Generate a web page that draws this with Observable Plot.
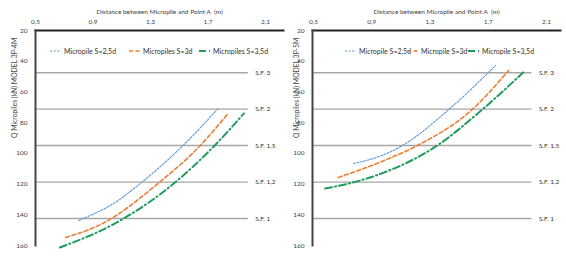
<!DOCTYPE html>
<html>
<head>
<meta charset="utf-8">
<script src="https://cdn.jsdelivr.net/npm/d3@7"></script>
<script src="https://cdn.jsdelivr.net/npm/@observablehq/plot@0.6"></script>
<style>
  html, body { margin: 0; padding: 0; background: #fff; }
  #wrap { position: relative; width: 566px; height: 265px; overflow: hidden; }
  .panel { position: absolute; top: 0; }
  .legend { position: absolute; top: 0; left: 0; font-family: Lato, "Open Sans", sans-serif; font-size: 7px; color: #333; }
  .legend .item { position: absolute; top: 46px; white-space: nowrap; display: flex; align-items: center; height: 10px; }
  .legend svg { margin-right: 3px; }
</style>
</head>
<body>
<div id="wrap"></div>
<script>
// ---- data ----
const xTicks = [0.5, 0.9, 1.3, 1.7, 2.1];
const yTicks = [20, 40, 60, 80, 100, 120, 140, 160];
const sfLabels = ["S.F. 3", "S.F. 2", "S.F. 1,5", "S.F. 1,2", "S.F. 1"];
const sfQ = [47.5, 71.2, 94.9, 118.7, 142.4];

const seriesNames4M = ["Micropile S=2,5d", "Micropiles S=3d", "Micropiles S=3,5d"];
const seriesNames5M = ["Micropile S=2,5d", "Micropile S=3d", "Micropile S=3,5d"];

const s25_4M_x = [0.80, 1.07, 1.23, 1.52, 1.77];
const s25_4M_q = [143.7, 131.0, 119.5, 95.5, 70.8];
const s30_4M_x = [0.71, 0.97, 1.36, 1.64, 1.84];
const s30_4M_q = [154.8, 145.5, 119.0, 95.5, 74.0];
const s35_4M_x = [0.67, 1.09, 1.47, 1.74, 1.95];
const s35_4M_q = [161.3, 143.7, 119.0, 95.5, 74.0];

const s25_5M_x = [0.775, 0.97, 1.10, 1.43, 1.75];
const s25_5M_q = [106.6, 101.4, 95.5, 71.4, 42.8];
const s30_5M_x = [0.67, 0.95, 1.20, 1.59, 1.84];
const s30_5M_q = [115.7, 106.0, 95.5, 71.4, 46.0];
const s35_5M_x = [0.58, 0.77, 0.97, 1.34, 1.66, 1.94];
const s35_5M_q = [122.9, 119.0, 113.0, 95.5, 71.4, 47.3];

const colors = ["#5b9bd5", "#ed7d31", "#1f9a5e"];
const dashes = ["2,1.5", "4,2.5", "7,3,1.2,3"];
const widths = [1.1, 1.6, 2];

function makeRows(xs, qs) { return xs.map((x, i) => ({x, q: qs[i]})); }

function makePanel(cfg) {
  const series = cfg.series.map(([xs, qs]) => makeRows(xs, qs));
  const sf = sfLabels.map((label, i) => ({label, q: sfQ[i]}));
  const marks = [
    Plot.ruleY(sf, {y: "q", x1: xTicks[0], x2: cfg.sfEnd, stroke: "#a6a6a6", strokeWidth: 1.4}),
    Plot.text(sf, {y: "q", x: cfg.sfEnd, text: "label", textAnchor: "start", dx: 7, fill: "#333", fontSize: 6.5}),
    ...series.map((rows, i) => Plot.line(rows, {
      x: "x", y: "q", curve: "monotone-x",
      stroke: colors[i], strokeWidth: widths[i], strokeDasharray: dashes[i]
    })),
    Plot.axisX({anchor: "top", ticks: xTicks, tickSize: 0, tickPadding: 7,
      tickFormat: d => String(d).replace(".", ","), label: "Distance between Micropile and Point A  (m)",
      labelAnchor: "center", labelOffset: 21, labelArrow: "none", fill: "#444", fontSize: 6.5}),
    Plot.axisY({anchor: "left", ticks: yTicks, tickSize: 0, tickPadding: 8, label: null, fill: "#444", fontSize: 6.5}),
    Plot.text([cfg.yLabel], {frameAnchor: "left", text: d => d, rotate: -90, dx: -cfg.labelOffset, fill: "#444", fontSize: 6.8}),
    Plot.frame({anchor: "top", stroke: "#222", strokeWidth: 2}),
    Plot.frame({anchor: "left", stroke: "#444", strokeWidth: 2})
  ];
  return Plot.plot({
    width: 283, height: 265,
    marginLeft: cfg.left, marginRight: cfg.right, marginTop: 30, marginBottom: 20,
    style: {fontFamily: "Lato, 'Open Sans', sans-serif", fontSize: "7px", color: "#333", background: "transparent", overflow: "visible"},
    x: {domain: [xTicks[0], xTicks[xTicks.length - 1]], range: cfg.xRange},
    y: {domain: [yTicks[0], yTicks[yTicks.length - 1]], reverse: true},
    marks
  });
}

function makeLegend(names, positions) {
  const lg = document.createElement("div");
  lg.className = "legend";
  names.forEach((n, i) => {
    const it = document.createElement("div");
    it.className = "item";
    it.style.left = positions[i] + "px";
    it.innerHTML = `<svg width="11" height="4"><line x1="0" y1="2" x2="11" y2="2" stroke="${colors[i]}" stroke-width="${widths[i]}" stroke-dasharray="${dashes[i]}"/></svg><span>${n}</span>`;
    lg.appendChild(it);
  });
  return lg;
}

const wrap = document.getElementById("wrap");
const p1 = document.createElement("div"); p1.className = "panel"; p1.style.left = "0px";
p1.appendChild(makePanel({
  series: [[s25_4M_x, s25_4M_q], [s30_4M_x, s30_4M_q], [s35_4M_x, s35_4M_q]],
  yLabel: "Q Micropiles (kN) MODEL 3P-4M", left: 35, right: 0, xRange: [35, 265], sfEnd: 1.98, labelOffset: 21
}));
p1.appendChild(makeLegend(seriesNames4M, [50, 129, 199]));
wrap.appendChild(p1);

const p2 = document.createElement("div"); p2.className = "panel"; p2.style.left = "283px";
p2.appendChild(makePanel({
  series: [[s25_5M_x, s25_5M_q], [s30_5M_x, s30_5M_q], [s35_5M_x, s35_5M_q]],
  yLabel: "Q Micropiles (kN) MODEL 3P-5M", left: 29, right: 6, xRange: [30, 263], sfEnd: 2.0, labelOffset: 16
}));
p2.appendChild(makeLegend(seriesNames5M, [62, 124, 185]));
wrap.appendChild(p2);
</script>
</body>
</html>
